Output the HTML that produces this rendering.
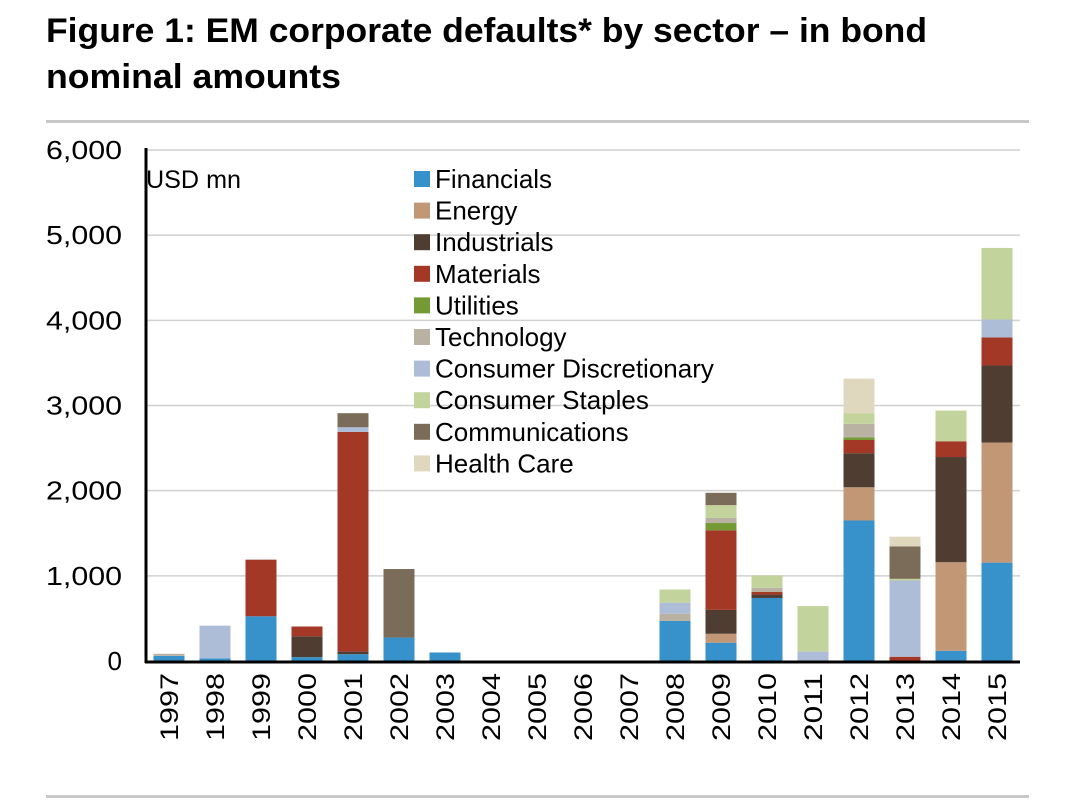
<!DOCTYPE html>
<html><head><meta charset="utf-8"><style>
body{margin:0;background:#fff;width:1067px;height:805px;overflow:hidden;font-family:"Liberation Sans",sans-serif}
</style></head><body>
<svg width="1067" height="805" id="svg">
<text x="46" y="42" font-size="34" font-weight="bold" textLength="881" lengthAdjust="spacingAndGlyphs">Figure 1: EM corporate defaults* by sector – in bond</text>
<text x="46" y="88" font-size="34" font-weight="bold" textLength="295" lengthAdjust="spacingAndGlyphs">nominal amounts</text>
<rect x="46" y="120" width="983" height="3" fill="#c8c8c8"/>
<rect x="46" y="795" width="983" height="3" fill="#c8c8c8"/>
<text x="146" y="188" font-size="25" textLength="95" lengthAdjust="spacingAndGlyphs">USD mn</text>
<g id="grid"></g><g id="bars"></g><g id="axes"></g><g id="legend"></g>
</svg>
<script>
const years=["1997","1998","1999","2000","2001","2002","2003","2004","2005","2006","2007","2008","2009","2010","2011","2012","2013","2014","2015"];
const sectors=["Financials","Energy","Industrials","Materials","Utilities","Technology","Consumer Discretionary","Consumer Staples","Communications","Health Care"];
const colors=["#3792cb","#c19776","#4f3d31","#a43826","#739a33","#b9b2a3","#adbcd7","#c2d39c","#7b6c59","#e0d7bf"];
const financials=[60,30,525,45,80,275,100,0,0,0,0,470,215,740,0,1650,0,120,1155];
const energy=[0,0,0,0,0,0,0,0,0,0,0,0,105,0,0,390,0,1040,1410];
const industrials=[0,0,0,245,30,0,0,0,0,0,0,0,280,40,0,400,0,1235,905];
const materials=[0,0,665,115,2580,0,0,0,0,0,0,0,935,30,0,155,50,185,330];
const utilities=[0,0,0,0,0,0,0,0,0,0,0,0,85,0,0,30,0,0,0];
const technology=[25,0,0,0,0,0,0,0,0,0,0,85,60,50,0,160,0,0,0];
const consDisc=[0,385,0,0,55,0,0,0,0,0,0,130,0,0,110,0,895,0,210];
const consStaples=[0,0,0,0,0,0,0,0,0,0,0,155,150,145,535,125,20,360,840];
const communications=[0,0,0,0,165,805,0,0,0,0,0,0,145,0,0,0,380,0,0];
const healthCare=[0,0,0,0,0,0,0,0,0,0,0,0,0,0,0,405,115,0,0];
const series=[financials,energy,industrials,materials,utilities,technology,consDisc,consStaples,communications,healthCare];
const yTicks=[0,1000,2000,3000,4000,5000,6000];
const yTickLabels=["0","1,000","2,000","3,000","4,000","5,000","6,000"];
const NS="http://www.w3.org/2000/svg";
const X0=146,X1=1020,Y0=661,YT=150;
const y=v=>Y0-(v/6000)*(Y0-YT);
const step=(X1-X0)/years.length;
const xc=i=>X0+step*(i+0.5);
function mk(t,a,p){const e=document.createElementNS(NS,t);for(const k in a)e.setAttribute(k,a[k]);p.appendChild(e);return e;}
const grid=document.getElementById('grid'),bars=document.getElementById('bars'),axes=document.getElementById('axes'),leg=document.getElementById('legend');
yTicks.forEach((v,i)=>{
 if(v>0){const l=mk('line',{x1:X0,x2:X1,y1:y(v),y2:y(v),stroke:'#d0d0d0','stroke-width':1.5},grid);
 
 }
 const long=yTickLabels[i].length>1;
 const a={x:long?46:122,y:y(v)+9,'text-anchor':long?'start':'end','font-size':26};
 if(long){a.textLength=76;a.lengthAdjust='spacingAndGlyphs';}
 const t=mk('text',a,axes);t.textContent=yTickLabels[i];
 
 
});
years.forEach((yr,i)=>{
 let acc=0;
 series.forEach((s,k)=>{const v=s[i];if(v>0){
  const r=mk('rect',{x:xc(i)-15.5,width:31,y:y(acc+v),height:y(acc)-y(acc+v),fill:colors[k]},bars);
  
  
  acc+=v;}});
 const t=mk('text',{x:0,y:0,'font-size':25,textLength:68,lengthAdjust:'spacingAndGlyphs',transform:`translate(${xc(i)+9},741) rotate(-90)`},axes);t.textContent=yr;
 
 
});
const ya=mk('line',{x1:X0,x2:X0,y1:YT-2,y2:Y0+2,stroke:'#000','stroke-width':3},axes);


const xa=mk('line',{x1:X0-1,x2:X1,y1:Y0+1,y2:Y0+1,stroke:'#000','stroke-width':3},axes);


sectors.forEach((s,k)=>{
 const yy=179+k*31.6;
 const r=mk('rect',{x:414,y:yy-8,width:16,height:16,fill:colors[k]},leg);
 
 
 const t=mk('text',{x:435,y:yy+9,'font-size':26},leg);t.textContent=s;
 
 
});
</script>
</body></html>
